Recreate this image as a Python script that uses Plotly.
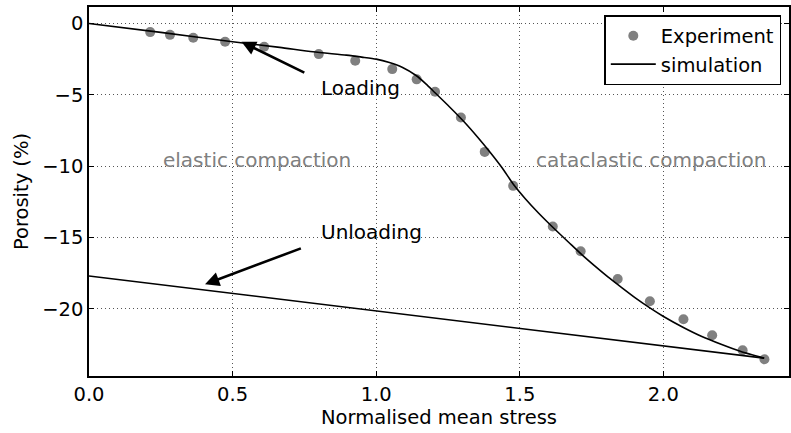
import plotly.graph_objects as go

# Experimental porosity change vs normalised mean stress
exp_stress = [0.213, 0.282, 0.363, 0.474, 0.610, 0.800, 0.927, 1.056, 1.141, 1.205,
              1.295, 1.378, 1.477, 1.615, 1.712, 1.841, 1.953, 2.070, 2.170, 2.276, 2.352]
exp_porosity = [-0.61, -0.80, -1.01, -1.29, -1.64, -2.15, -2.62, -3.20, -3.92, -4.79,
                -6.59, -9.00, -11.38, -14.23, -15.96, -17.90, -19.46, -20.72, -21.84, -22.90, -23.53]

# Simulated loading path, then the unloading path back to zero stress
sim_load_stress = [0, 0.25, 0.5, 0.664, 0.78, 0.896, 0.95, 1.000, 1.046, 1.092, 1.139, 1.173,
                   1.204, 1.254, 1.306, 1.352, 1.398, 1.439, 1.477, 1.520, 1.566, 1.615,
                   1.670, 1.716, 1.762, 1.808, 1.855, 1.901, 1.953, 1.999, 2.068, 2.132,
                   2.201, 2.270, 2.351]
sim_load_porosity = [0, -0.63, -1.29, -1.68, -1.99, -2.22, -2.36, -2.50, -2.74, -3.09, -3.65, -4.23,
                     -4.84, -5.82, -6.89, -7.94, -9.06, -10.13, -11.25, -12.30, -13.30, -14.28,
                     -15.33, -16.20, -17.01, -17.78, -18.51, -19.21, -19.93, -20.51, -21.28, -21.91,
                     -22.47, -22.98, -23.45]
sim_unload_stress = [2.351, 0.0]
sim_unload_porosity = [-23.45, -17.69]

x_ticks = [0.0, 0.5, 1.0, 1.5, 2.0]
y_ticks = [0, -5, -10, -15, -20]

FONT = "DejaVu Sans"
FS = 19.5

fig = go.Figure()
fig.add_trace(go.Scatter(
    x=exp_stress, y=exp_porosity, mode="markers", name="Experiment",
    marker=dict(color="#808080", size=10, line=dict(width=0)),
))
fig.add_trace(go.Scatter(
    x=sim_load_stress, y=sim_load_porosity, mode="lines", name="simulation",
    legendgroup="sim", line=dict(color="black", width=1.6, shape="spline", smoothing=0.6),
))
fig.add_trace(go.Scatter(
    x=sim_unload_stress, y=sim_unload_porosity, mode="lines", name="simulation",
    legendgroup="sim", showlegend=False, line=dict(color="black", width=1.6),
))

annotations = []
# Arrows
for (x0, y0, x1, y1) in [(0.755, -3.50, 0.531, -1.29), (0.743, -15.72, 0.404, -18.27)]:
    annotations.append(dict(
        x=x1, y=y1, ax=x0, ay=y0, xref="x", yref="y", axref="x", ayref="y",
        text="", showarrow=True, arrowhead=2, arrowsize=1.1, arrowwidth=2.6,
        arrowcolor="black", standoff=0, startstandoff=0,
    ))
# Labels
for (tx, ty, txt, col) in [(0.80, -4.55, "Loading", "black"),
                           (0.80, -14.6, "Unloading", "black"),
                           (0.25, -9.6, "elastic compaction", "#808080"),
                           (1.55, -9.6, "cataclastic compaction", "#808080")]:
    annotations.append(dict(
        x=tx, y=ty, xref="x", yref="y", text=txt, showarrow=False,
        xanchor="left", yanchor="middle", font=dict(family=FONT, size=20, color=col),
    ))

axis_common = dict(
    showline=True, linecolor="black", linewidth=1.5, mirror="ticks",
    ticks="inside", ticklen=5, tickwidth=1.2, tickcolor="black",
    showgrid=True, gridcolor="#555555", gridwidth=1, griddash="1px,3px",
    zeroline=False, tickfont=dict(family=FONT, size=FS, color="black"),
)

fig.update_layout(
    width=791, height=433,
    margin=dict(l=89, r=0, t=7, b=57),
    paper_bgcolor="white", plot_bgcolor="white",
    font=dict(family=FONT, size=FS, color="black"),
    xaxis=dict(range=[0, 2.4375], tickvals=x_ticks, tickformat=".1f",
               title=dict(text="Normalised mean stress", font=dict(family=FONT, size=FS), standoff=4),
               **axis_common),
    yaxis=dict(range=[-24.7, 1.15], tickvals=y_ticks,
               title=dict(text="Porosity (%)", font=dict(family=FONT, size=FS), standoff=8),
               **axis_common),
    legend=dict(x=0.989, y=0.978, xanchor="right", yanchor="top",
                bgcolor="white", bordercolor="black", borderwidth=1.5,
                font=dict(family=FONT, size=FS), tracegroupgap=0, itemwidth=45),
    annotations=annotations,
    showlegend=True,
)

fig.write_html("out.html")
